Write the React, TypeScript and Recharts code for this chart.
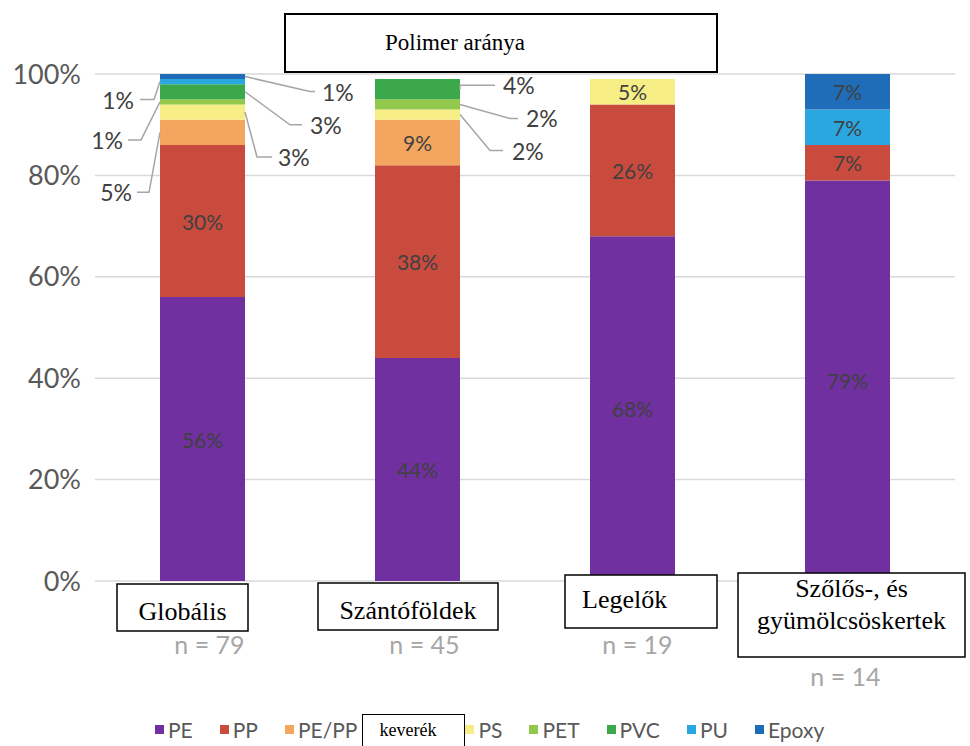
import { Bar, BarChart, CartesianGrid, LabelList, XAxis, YAxis } from 'recharts';

// land-use groups, sample sizes and polymer shares (%)
const categories = ['Globális', 'Szántóföldek', 'Legelők', 'Szőlős-, és\ngyümölcsöskertek'];
const sampleSizes = [79, 45, 19, 14];

const pe = [56, 44, 68, 79];
const pp = [30, 38, 26, 7];
const pePp = [5, 9, 0, 0];
const ps = [3, 2, 5, 0];
const pet = [1, 2, 0, 0];
const pvc = [3, 4, 0, 0];
const pu = [1, 0, 0, 7];
const epoxy = [1, 0, 0, 7];

const yTicks = [0, 20, 40, 60, 80, 100];

const series = [
  { key: 'PE', values: pe, color: '#7030a0' },
  { key: 'PP', values: pp, color: '#c94b3e' },
  { key: 'PE/PP', values: pePp, color: '#f5a65e' },
  { key: 'PS', values: ps, color: '#f6ee84' },
  { key: 'PET', values: pet, color: '#92c84c' },
  { key: 'PVC', values: pvc, color: '#3aa84b' },
  { key: 'PU', values: pu, color: '#2aa7e0' },
  { key: 'Epoxy', values: epoxy, color: '#1f6db8' },
];

const data = categories.map((category, i) => {
  const row: Record<string, string | number> = { category, n: sampleSizes[i] };
  series.forEach((s) => {
    row[s.key] = s.values[i];
  });
  return row;
});

const SANS = 'Lato, "Open Sans", sans-serif';
const SERIF = '"Liberation Serif", "Times New Roman", serif';

// small segments get a leader line pointing out of the bar
type Callout = { side: 'left' | 'right'; dx: number; dy: number; run: number; gap: number };
const callouts: Record<string, Callout> = {
  '0/Epoxy': { side: 'right', dx: 65, dy: 15, run: 5, gap: 7 },
  '0/PVC': { side: 'right', dx: 45, dy: 33, run: 12, gap: 8 },
  '0/PS': { side: 'right', dx: 12, dy: 45, run: 15, gap: 6 },
  '0/PU': { side: 'left', dx: 6, dy: 18, run: 14, gap: 6 },
  '0/PET': { side: 'left', dx: 19, dy: 38, run: 13, gap: 5 },
  '0/PE/PP': { side: 'left', dx: 11, dy: 60, run: 12, gap: 5 },
  '1/PVC': { side: 'right', dx: 0, dy: -4, run: 35, gap: 8 },
  '1/PET': { side: 'right', dx: 50, dy: 14, run: 8, gap: 8 },
  '1/PS': { side: 'right', dx: 30, dy: 36, run: 13, gap: 9 },
};

// label boxes under each bar, relative to the band centre
type TickBox = { dx: number; dy: number; w: number; h: number; textDx?: number; lineYs: number[]; nDx: number; nY: number };
const tickBoxes: TickBox[] = [
  { dx: -85.5, dy: 3, w: 131, h: 47, lineYs: [27], nDx: 7, nY: 63 },
  { dx: -99.5, dy: 2, w: 180, h: 47, lineYs: [27], nDx: 7, nY: 63 },
  { dx: -67.5, dy: -6, w: 152, h: 53, textDx: -50.5, lineYs: [24], nDx: 5, nY: 63 },
  { dx: -109.5, dy: -8, w: 227, h: 84, lineYs: [15, 47], nDx: -2, nY: 95 },
];

const makeLabel = (seriesKey: string) => (props: any) => {
  const vb = props.viewBox ?? {};
  const x = Number(props.x ?? vb.x);
  const y = Number(props.y ?? vb.y);
  const width = Number(props.width ?? vb.width);
  const height = Number(props.height ?? vb.height);
  const value = Number(props.value);
  if (!value || Number.isNaN(x)) return null;
  const text = `${value}%`;
  const cy = y + height / 2;
  const co = callouts[`${props.index}/${seriesKey}`];
  if (!co) {
    return (
      <text
        x={x + width / 2}
        y={cy}
        textAnchor="middle"
        dominantBaseline="central"
        fill="#404040"
        fontSize={21}
        fontFamily={SANS}
      >
        {text}
      </text>
    );
  }
  const s = co.side === 'right' ? 1 : -1;
  const x0 = co.side === 'right' ? x + width : x;
  const ex = x0 + s * co.dx;
  const ey = cy + co.dy;
  const endX = ex + s * co.run;
  return (
    <g>
      <polyline
        points={`${x0},${cy} ${ex},${ey} ${endX},${ey}`}
        fill="none"
        stroke="#a6a6a6"
        strokeWidth={1.5}
      />
      <text
        x={endX + s * co.gap}
        y={ey}
        textAnchor={co.side === 'right' ? 'start' : 'end'}
        dominantBaseline="central"
        fill="#404040"
        fontSize={23}
        fontFamily={SANS}
      >
        {text}
      </text>
    </g>
  );
};

const CategoryTick = (props: any) => {
  const { x, y, payload } = props;
  const i = categories.indexOf(payload.value);
  const box = tickBoxes[i];
  if (!box) return null;
  const lines = String(payload.value).split('\n');
  const left = x + box.dx;
  const top = y + box.dy;
  const aligned = box.textDx !== undefined;
  return (
    <g>
      <rect x={left} y={top} width={box.w} height={box.h} fill="#fff" stroke="#000" strokeWidth={1.5} />
      {lines.map((line, k) => (
        <text
          key={line}
          x={aligned ? x + (box.textDx as number) : left + box.w / 2}
          y={top + box.lineYs[k]}
          textAnchor={aligned ? 'start' : 'middle'}
          dominantBaseline="central"
          fill="#000"
          fontSize={26}
          fontFamily={SERIF}
        >
          {line}
        </text>
      ))}
      <text
        x={x + box.nDx}
        y={y + box.nY}
        textAnchor="middle"
        dominantBaseline="central"
        fill="#a6a6a6"
        fontSize={25}
        fontFamily={SANS}
      >
        {`n = ${sampleSizes[i]}`}
      </text>
    </g>
  );
};

export default function App() {
  return (
    <div
      style={{
        position: 'absolute',
        left: 0,
        top: 0,
        width: 970,
        height: 746,
        background: '#fff',
        overflow: 'hidden',
      }}
    >
      <BarChart width={970} height={746} data={data} margin={{ top: 74, right: 15, left: 0, bottom: 0 }}>
        <CartesianGrid stroke="#d9d9d9" strokeWidth={1.5} vertical={false} />
        <YAxis
          domain={[0, 100]}
          ticks={yTicks}
          tickFormatter={(v) => `${v}%`}
          axisLine={false}
          tickLine={false}
          width={95}
          tickMargin={8}
          tick={{ fill: '#595959', fontSize: 27, fontFamily: SANS }}
        />
        {series.map((s) => (
          <Bar key={s.key} dataKey={s.key} stackId="a" fill={s.color} barSize={85} isAnimationActive={false}>
            <LabelList dataKey={s.key} content={makeLabel(s.key)} />
          </Bar>
        ))}
        <XAxis
          dataKey="category"
          axisLine={false}
          tickLine={false}
          tickSize={0}
          tickMargin={0}
          height={165}
          interval={0}
          tick={<CategoryTick />}
        />
      </BarChart>

      <div
        style={{
          position: 'absolute',
          left: 284,
          top: 13,
          width: 434,
          height: 60,
          boxSizing: 'border-box',
          border: '2px solid #000',
          background: '#fff',
          fontFamily: SERIF,
          fontSize: 23,
          paddingLeft: 99,
          lineHeight: '56px',
          color: '#000',
        }}
      >
        Polimer aránya
      </div>

      <div
        style={{
          position: 'absolute',
          left: 155,
          top: 713,
          height: 33,
          display: 'flex',
          alignItems: 'center',
          fontFamily: SANS,
          fontSize: 21,
          color: '#595959',
        }}
      >
        {series.map((s) => (
          <div key={s.key} style={{ display: 'flex', alignItems: 'center', marginRight: s.key === 'PE/PP' ? 0 : 27 }}>
            <span style={{ width: 9, height: 9, background: s.color, marginRight: 4 }} />
            <span>{s.key}</span>
            {s.key === 'PE/PP' && (
              <span
                style={{
                  marginLeft: 5,
                  width: 103,
                  height: 44,
                  marginTop: 12,
                  boxSizing: 'border-box',
                  border: '1.5px solid #000',
                  background: '#fff',
                  fontFamily: SERIF,
                  fontSize: 18,
                  color: '#000',
                  textAlign: 'center',
                  paddingTop: 5,
                  paddingRight: 12,
                }}
              >
                keverék
              </span>
            )}
          </div>
        ))}
      </div>
    </div>
  );
}
